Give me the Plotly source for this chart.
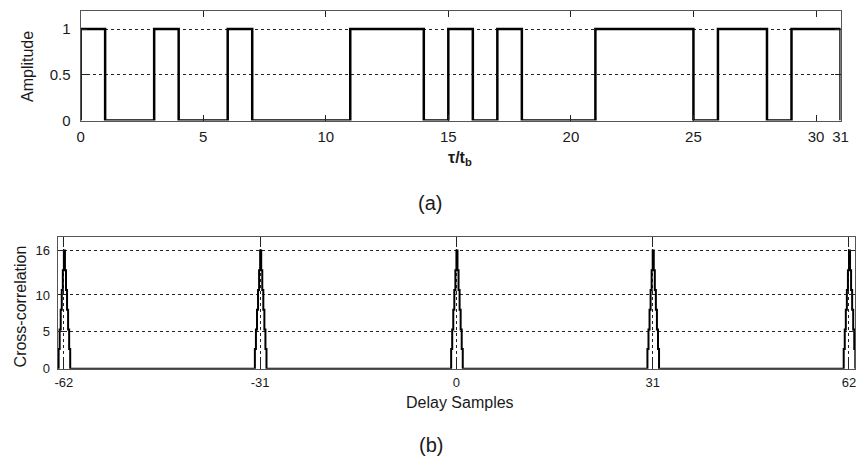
import plotly.graph_objects as go

# ---------------- data ----------------
# (a) PN sequence (31 chips), one value per chip interval [i, i+1)
chip_bits = [1, 0, 0, 1, 0, 0, 1, 0, 0, 0, 0, 1, 1, 1, 0, 1, 0, 1, 0, 0, 0,
             1, 1, 1, 1, 0, 1, 1, 0, 1, 1]
top_xticks = [0, 5, 10, 15, 20, 25, 30, 31]
top_yticks = [0, 0.5, 1]

# (b) cross-correlation: peak positions and stair profile around each peak
peak_centers = [-62, -31, 0, 31, 62]
peak_offsets = [-1.0, -0.8333, -0.6667, -0.5, -0.3333, -0.1667, 0.0,
                0.1667, 0.3333, 0.5, 0.6667, 0.8333, 1.0]
peak_values = [0, 2.67, 5.33, 8.0, 10.67, 13.33, 16.0,
               13.33, 10.67, 8.0, 5.33, 2.67, 0]
bot_xticks = [-62, -31, 0, 31, 62]
bot_yticks = [0, 5, 10, 16]

# ---------------- build traces ----------------
xa = [0]
ya = [0]
for i, b in enumerate(chip_bits):
    xa.append(i)
    ya.append(b)
xa += [len(chip_bits), len(chip_bits)]
ya += [chip_bits[-1], 0]

xb = [-63]
yb = [0]
for c in peak_centers:
    for o, v in zip(peak_offsets, peak_values):
        xb.append(c + o)
        yb.append(v)
xb.append(63)
yb.append(0)

W, H = 864, 466


def px_x(p):
    return p / W


def px_y(p):
    return 1 - p / H


FONT = "Liberation Sans, Arial"
TXT = "#1a1a1a"

fig = go.Figure()
fig.add_trace(go.Scatter(x=xa, y=ya, mode="lines", line=dict(color="black", width=2.5, shape="hv"),
                         xaxis="x", yaxis="y", showlegend=False, hoverinfo="skip"))
fig.add_trace(go.Scatter(x=xb, y=yb, mode="lines", line=dict(color="black", width=2, shape="hv"),
                         xaxis="x2", yaxis="y2", showlegend=False, hoverinfo="skip"))


def ax(size, **kw):
    d = dict(showline=True, mirror="ticks", linecolor="#555555", linewidth=1,
             ticks="inside", tickcolor="#222222", tickwidth=1, zeroline=False,
             tickfont=dict(family=FONT, color=TXT, size=size))
    d.update(kw)
    return d


griddash = dict(gridcolor="#222222", griddash="3px,3px", gridwidth=1)

fig.update_layout(
    width=W, height=H,
    margin=dict(l=0, r=0, t=0, b=0),
    paper_bgcolor="white", plot_bgcolor="white",
    xaxis=ax(15, domain=[px_x(77.7), px_x(848.3)], range=[0, 31], anchor="y",
             tickvals=top_xticks, ticktext=[str(t) for t in top_xticks],
             showgrid=False, ticklen=6, ticklabelstandoff=2),
    yaxis=ax(15, domain=[px_y(122.7), px_y(11)], range=[0, 1.2], anchor="x",
             tickvals=top_yticks, ticktext=["0", "0.5", "1"],
             showgrid=True, ticklen=6, ticklabelstandoff=6, **griddash),
    xaxis2=ax(13, domain=[px_x(54.3), px_x(863.3)], range=[-63, 63], anchor="y2",
              tickvals=bot_xticks, ticktext=[str(t) for t in bot_xticks],
              showgrid=True, ticklen=10, ticklabelstandoff=2, **griddash),
    yaxis2=ax(13, domain=[px_y(375.3), px_y(241)], range=[0, 17.86], anchor="x2",
              tickvals=bot_yticks, ticktext=[str(t) for t in bot_yticks],
              showgrid=True, ticklen=6, ticklabelstandoff=4, **griddash),
)

ann = [
    dict(text="Amplitude", x=px_x(24.5), y=px_y(68), textangle=-90, size=16),
    dict(text="<b>τ/t<sub>b</sub></b>", x=px_x(462), y=px_y(161), size=16),
    dict(text="(a)", x=px_x(432), y=px_y(207), size=20),
    dict(text="Cross-correlation", x=px_x(17), y=px_y(312), textangle=-90, size=16),
    dict(text="Delay Samples", x=px_x(462), y=px_y(410), size=16),
    dict(text="(b)", x=px_x(433), y=px_y(453), size=20),
]
for a in ann:
    size = a.pop("size")
    fig.add_annotation(xref="paper", yref="paper", showarrow=False,
                       xanchor="center", yanchor="middle",
                       font=dict(family=FONT, color=TXT, size=size), **a)

fig.write_html("out.html", config={"displayModeBar": False},
               post_script="document.body.style.margin='0';document.body.style.padding='0';"
                           "document.documentElement.style.overflow='hidden';")
